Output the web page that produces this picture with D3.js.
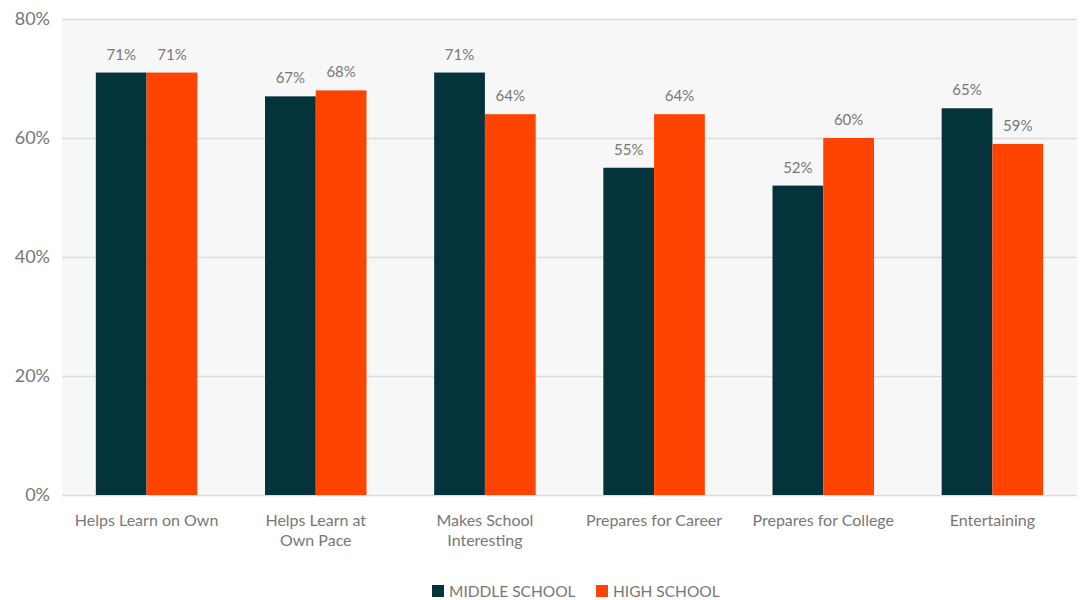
<!DOCTYPE html>
<html>
<head>
<meta charset="utf-8">
<script src="https://cdn.jsdelivr.net/npm/d3@7"></script>
<style>
  body { margin: 0; background: #fff; }
  text { font-family: Lato, "Open Sans", sans-serif; fill: #777; }
</style>
</head>
<body>
<div id="chart"></div>
<script>
var categories = [["Helps Learn on Own"], ["Helps Learn at", "Own Pace"], ["Makes School", "Interesting"],
  ["Prepares for Career"], ["Prepares for College"], ["Entertaining"]];
var middleSchool = [71, 67, 71, 55, 52, 65];
var highSchool = [71, 68, 64, 64, 60, 59];
var seriesNames = ["MIDDLE SCHOOL", "HIGH SCHOOL"];
var yTicks = [0, 20, 40, 60, 80];

var colors = ["#05333b", "#ff4300"];
var plotLeft = 62, plotRight = 1077, plotTop = 19, plotBottom = 495;

var svg = d3.select("#chart").append("svg")
  .attr("width", 1080)
  .attr("height", 600);

var x = d3.scaleBand()
  .domain(d3.range(categories.length))
  .range([plotLeft, plotRight])
  .paddingInner(0.4)
  .paddingOuter(0.2);

var x2 = d3.scaleBand()
  .domain([0, 1])
  .range([0, x.bandwidth()]);

var y = d3.scaleLinear()
  .domain([0, 80])
  .range([plotBottom, plotTop]);

// panel
svg.append("rect")
  .attr("x", plotLeft)
  .attr("y", plotTop)
  .attr("width", plotRight - plotLeft)
  .attr("height", plotBottom - plotTop)
  .attr("fill", "#f7f7f7");

// grid
svg.append("g").selectAll("line")
  .data(yTicks)
  .join("line")
    .attr("x1", plotLeft)
    .attr("x2", plotRight)
    .attr("y1", d => y(d) + 0.5)
    .attr("y2", d => y(d) + 0.5)
    .attr("stroke", "#dcdcdc")
    .attr("stroke-width", 1.5);

svg.append("g").selectAll("text")
  .data(yTicks)
  .join("text")
    .attr("x", 50)
    .attr("y", d => y(d) + 6)
    .attr("text-anchor", "end")
    .style("font-size", "18px")
    .text(d => d + "%");

var series = [middleSchool, highSchool];

series.forEach(function(vals, s) {
  var g = svg.append("g");
  g.selectAll("rect")
    .data(vals)
    .join("rect")
      .attr("x", (d, i) => x(i) + x2(s))
      .attr("y", d => y(d))
      .attr("width", x2.bandwidth())
      .attr("height", d => y(0) - y(d))
      .attr("fill", colors[s]);
  g.selectAll("text")
    .data(vals)
    .join("text")
      .attr("x", (d, i) => x(i) + x2(s) + x2.bandwidth() / 2)
      .attr("y", d => y(d) - 13)
      .attr("text-anchor", "middle")
      .style("font-size", "15px")
      .text(d => d + "%");
});

// category labels
var cat = svg.append("g").selectAll("text")
  .data(categories)
  .join("text")
    .attr("x", (d, i) => x(i) + x.bandwidth() / 2)
    .attr("y", 526)
    .attr("text-anchor", "middle")
    .style("font-size", "16px");

cat.selectAll("tspan")
  .data(d => d)
  .join("tspan")
    .attr("x", function() { return d3.select(this.parentNode).attr("x"); })
    .attr("dy", (d, i) => i === 0 ? 0 : 20)
    .text(d => d);

// legend
var legendX = [432, 596];
var legend = svg.append("g").selectAll("g")
  .data(seriesNames)
  .join("g")
    .attr("transform", (d, i) => "translate(" + legendX[i] + ",585)");

legend.append("rect")
  .attr("width", 12)
  .attr("height", 12)
  .attr("fill", (d, i) => colors[i]);

legend.append("text")
  .attr("x", 17)
  .attr("y", 12)
  .style("font-size", "15.5px")
  .text(d => d);
</script>
</body>
</html>
